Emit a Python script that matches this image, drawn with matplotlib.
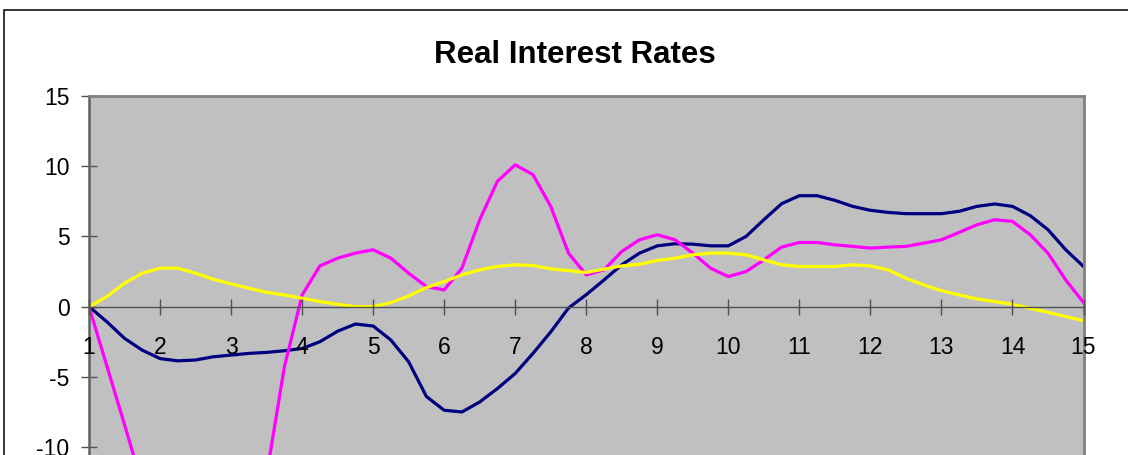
import matplotlib
matplotlib.use("Agg")
import matplotlib.pyplot as plt
from matplotlib.patches import Rectangle

plt.rcParams['font.family'] = ['Liberation Sans', 'DejaVu Sans']
plt.rcParams['axes.unicode_minus'] = False

# Period positions (quarter steps between the numbered periods)
x = [1 + 0.25 * i for i in range(57)]

# Series 1 (navy)
navy = [0.0, -1.07, -2.26, -3.1, -3.7, -3.86, -3.8, -3.57, -3.45, -3.33,
        -3.26, -3.14, -2.98, -2.5, -1.75, -1.24, -1.38, -2.38, -3.93, -6.4,
        -7.38, -7.5, -6.79, -5.83, -4.76, -3.33, -1.8, -0.1, 0.85, 1.9,
        2.98, 3.81, 4.33, 4.48, 4.45, 4.33, 4.33, 5.0, 6.19, 7.33,
        7.9, 7.9, 7.57, 7.14, 6.86, 6.71, 6.62, 6.62, 6.62, 6.79,
        7.14, 7.31, 7.14, 6.48, 5.48, 4.05, 2.86]

# Series 2 (magenta)
magenta = [0.0, -4.2, -8.4, -12.7, -16.5, -20.5, -22.0, -21.5, -20.0, -16.5,
           -12.0, -4.3, 0.83, 2.9, 3.45, 3.81, 4.05, 3.45, 2.38, 1.43,
           1.19, 2.74, 6.19, 8.93, 10.1, 9.4, 7.14, 3.81, 2.26, 2.62,
           3.93, 4.76, 5.12, 4.76, 3.81, 2.74, 2.14, 2.5, 3.33, 4.24,
           4.57, 4.57, 4.4, 4.29, 4.17, 4.24, 4.29, 4.52, 4.76, 5.29,
           5.83, 6.19, 6.07, 5.12, 3.81, 1.9, 0.29]

# Series 3 (yellow)
yellow = [0.0, 0.71, 1.67, 2.38, 2.74, 2.74, 2.38, 1.95, 1.62, 1.31,
          1.02, 0.83, 0.6, 0.36, 0.17, 0.0, 0.0, 0.29, 0.76, 1.36,
          1.79, 2.26, 2.62, 2.86, 2.98, 2.93, 2.69, 2.57, 2.43, 2.67,
          2.9, 3.02, 3.29, 3.45, 3.69, 3.81, 3.81, 3.69, 3.33, 2.98,
          2.86, 2.86, 2.86, 2.98, 2.9, 2.62, 2.02, 1.55, 1.14, 0.83,
          0.55, 0.36, 0.17, -0.12, -0.4, -0.71, -1.0]

xticks = list(range(1, 16))
yticks = [-10, -5, 0, 5, 10, 15]
title = "Real Interest Rates"

W, H = 1128, 455
fig = plt.figure(figsize=(W / 100, H / 100), dpi=100)
fig.patch.set_facecolor('white')

# Outer chart frame (continues past the right and bottom edges)
fig.patches.append(Rectangle((4 / W, -0.2), 1.2, (H - 10) / H + 0.2,
                             transform=fig.transFigure, fill=False,
                             edgecolor='black', linewidth=1.1, zorder=0))

ymin, ymax = -25, 15
px_per_unit = 14.04
top_px, zero_px = 96, 306.7
bottom_px = zero_px + (-ymin) * px_per_unit
left_px, right_px = 89, 1083.5
ax = fig.add_axes([left_px / W, (H - bottom_px) / H,
                   (right_px - left_px) / W, (bottom_px - top_px) / H])
ax.set_facecolor('#C0C0C0')

ax.plot(x, navy, color='#000080', lw=2.3, solid_joinstyle='round')
ax.plot(x, magenta, color='#FF00FF', lw=2.3, solid_joinstyle='round')
ax.plot(x, yellow, color='#FFFF00', lw=2.3, solid_joinstyle='round')

ax.set_xlim(1, 15)
ax.set_ylim(ymin, ymax)
ax.set_xticks(xticks)
ax.set_yticks(yticks)
ax.set_xticklabels([str(v) for v in xticks])

ax.spines['bottom'].set_position(('data', 0))
ax.spines['bottom'].set_color('#505050')
ax.spines['bottom'].set_linewidth(1.0)
ax.spines['left'].set_color('#606060')
ax.spines['left'].set_linewidth(1.8)
for s in ('top', 'right'):
    ax.spines[s].set_color('#808080')
    ax.spines[s].set_linewidth(2.0)

ax.tick_params(axis='x', direction='inout', length=11, width=1.0,
               color='#505050', labelsize=16.5, pad=16)
ax.tick_params(axis='y', direction='inout', length=11, width=1.0,
               color='#505050', labelsize=16.5, pad=8.5)
# keep the category labels on top of the value-axis line
ax.xaxis.set_zorder(3)

fig.text(575 / W, 1 - 55 / H, title, ha='center', va='center',
         fontsize=22.5, fontweight='bold')

fig.savefig('out.png', dpi=100)
